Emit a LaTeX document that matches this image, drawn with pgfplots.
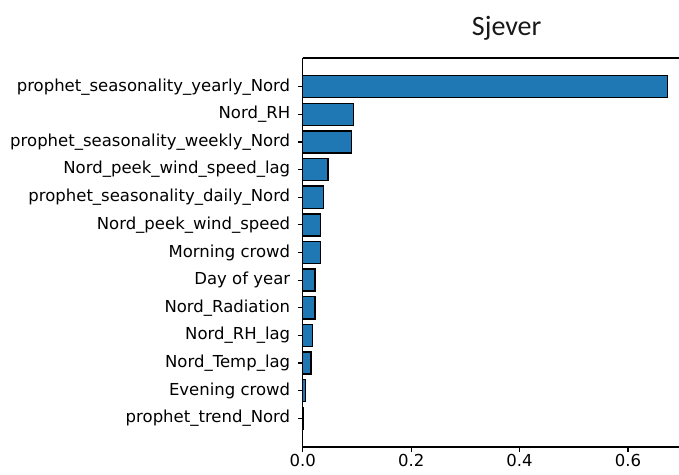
\documentclass[border=0pt]{standalone}
\usepackage{fontspec}
\setmainfont{DejaVu Sans}
\newfontfamily\titlefont{Carlito}
\usepackage{pgfplots}
\usepackage{pgfplotstable}
\pgfplotsset{compat=1.18}
\definecolor{barblue}{HTML}{1F77B4}

% feature importance, bottom (idx 0) to top (idx 12)
\pgfplotstableread{
idx value
0  0.001
1  0.0055
2  0.015
3  0.018
4  0.0227
5  0.0227
6  0.033
7  0.033
8  0.038
9  0.047
10 0.090
11 0.0933
12 0.673
}\importance

\begin{document}
\begin{tikzpicture}
  \begin{axis}[
    name=a, at={(0,0)}, anchor=south west,
    scale only axis, width=376.3pt, height=389pt,
    xmin=0, xmax=0.694, ymin=-1.04, ymax=13.04,
    xbar, bar width=0.8,
    axis x line*=bottom, axis y line*=left,
    axis line style={line width=1.4pt, black},
    tick align=outside, major tick length=5pt,
    tick style={line width=1.1pt, black},
    xtick={0,0.2,0.4,0.6},
    xticklabel style={/pgf/number format/fixed, /pgf/number format/fixed zerofill,
      /pgf/number format/precision=1, /pgf/number format/assume math mode=true,
      inner sep=2pt},
    ytick={0,...,12},
    yticklabels={prophet\_trend\_Nord, Evening crowd, Nord\_Temp\_lag, Nord\_RH\_lag,
      Nord\_Radiation, Day of year, Morning crowd, Nord\_peek\_wind\_speed,
      prophet\_seasonality\_daily\_Nord, Nord\_peek\_wind\_speed\_lag,
      prophet\_seasonality\_weekly\_Nord, Nord\_RH, prophet\_seasonality\_yearly\_Nord},
    tick label style={font=\fontsize{16.5}{19}\selectfont},
    yticklabel style={xshift=-4pt},
    clip=false,
  ]
    \addplot[fill=barblue, draw=black, line width=1.4pt] table[x=value, y=idx] {\importance};
    \draw[line width=1.4pt] (rel axis cs:0,1) -- (rel axis cs:1,1);
  \end{axis}
  \node[font=\titlefont\fontsize{28}{32}\selectfont, text=black!90] at (204pt,419pt) {Sjever};
  \pgfresetboundingbox
  \path[use as bounding box] (-302.7pt,-27pt) rectangle (376.3pt,447pt);
\end{tikzpicture}
\end{document}
